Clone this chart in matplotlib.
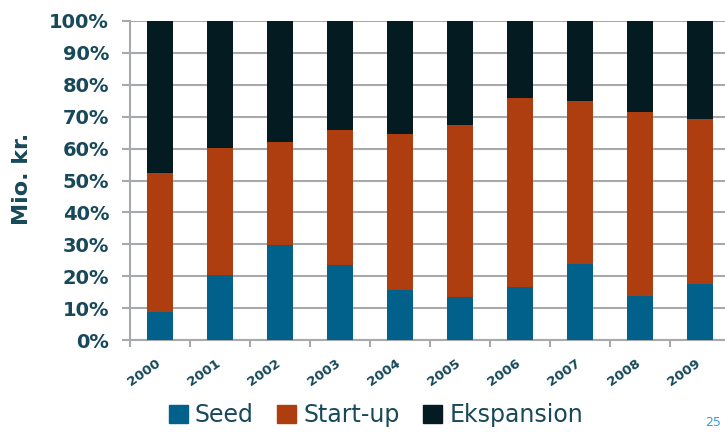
import numpy as np
import matplotlib
matplotlib.use("Agg")
import matplotlib.pyplot as plt
from matplotlib.patches import Patch

years = ['2000', '2001', '2002', '2003', '2004', '2005', '2006', '2007', '2008', '2009']
seed = [8.8, 20.5, 29.9, 23.4, 15.8, 13.6, 16.7, 23.7, 13.7, 17.4]
startup = [43.4, 39.7, 32.2, 42.5, 48.8, 53.9, 59.1, 51.3, 57.7, 52.0]
ekspansion = [100 - s - u for s, u in zip(seed, startup)]
yticks = [0, 10, 20, 30, 40, 50, 60, 70, 80, 90, 100]

c_seed = '#02618A'
c_start = '#AE3E0F'
c_eks = '#031B21'
c_text = '#17495A'
c_grid = '#A7AAAC'

fig = plt.figure(figsize=(7.25, 4.32), dpi=100)
ax = fig.add_axes([130/725, 92/432, 600/725, 319/432])

x = np.arange(len(years))
w = 0.42
ax.bar(x, seed, w, color=c_seed, zorder=3)
ax.bar(x, startup, w, bottom=seed, color=c_start, zorder=3)
ax.bar(x, ekspansion, w, bottom=np.array(seed) + np.array(startup), color=c_eks, zorder=3)

ax.set_xlim(-0.5, len(years) - 0.5)
ax.set_ylim(0, 100)
ax.set_yticks(yticks)
ax.set_yticklabels(['%d%%' % t for t in yticks], fontsize=14, fontweight='bold',
                   color=c_text)
ax.yaxis.grid(True, color=c_grid, linewidth=1.5, zorder=0)
ax.tick_params(axis='y', length=6, width=1.5, color=c_grid, pad=9)

ax.set_xticks(x - 0.5, minor=False)
ax.set_xticklabels([])
ax.set_xticks(x + 0.05, minor=True)
ax.set_xticklabels(years, minor=True, rotation=35, fontsize=9.5, fontweight='bold',
                   color=c_text, ha='right', va='top')
ax.tick_params(axis='x', which='major', length=5, width=1.5, color=c_grid)
ax.tick_params(axis='x', which='minor', length=0, pad=12)

for s in ['top', 'right']:
    ax.spines[s].set_visible(False)
for s in ['left', 'bottom']:
    ax.spines[s].set_color(c_grid)
    ax.spines[s].set_linewidth(1.5)

fig.text(22/725, 1 - 179/432, 'Mio. kr.', rotation=90, fontsize=16, fontweight='bold',
         color=c_text, ha='center', va='center')

handles = [Patch(color=c_seed), Patch(color=c_start), Patch(color=c_eks)]
fig.legend(handles, ['Seed', 'Start-up', 'Ekspansion'], loc='center',
           bbox_to_anchor=(376/725, 1 - 415/432), ncol=3, frameon=False,
           fontsize=17, labelcolor=c_text, handlelength=0.8, handleheight=0.8,
           handletextpad=0.3, columnspacing=1.0)

fig.text(713/725, 1 - 422/432, '25', fontsize=9, color='#3D9AD6', ha='center', va='center')

fig.savefig('out.png', dpi=100)
